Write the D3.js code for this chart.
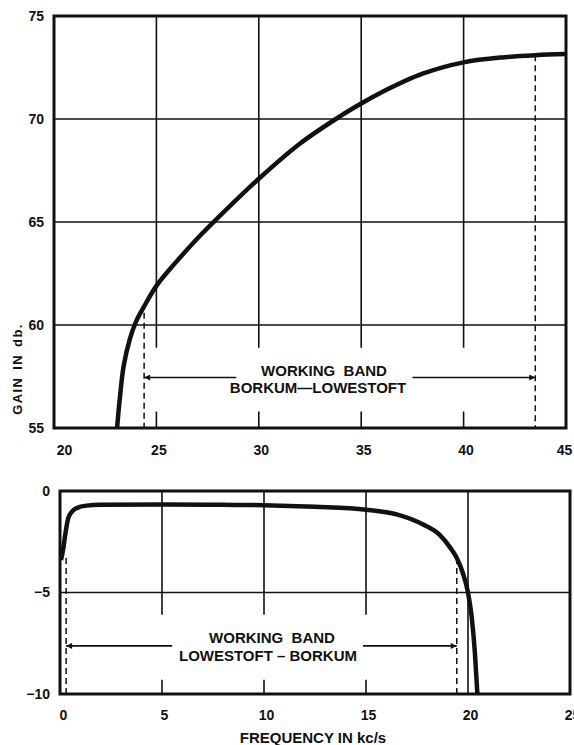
<!DOCTYPE html>
<html>
<head>
<meta charset="utf-8">
<script src="https://cdn.jsdelivr.net/npm/d3@7"></script>
<style>
  html, body { margin: 0; padding: 0; background: #fff; }
  svg { display: block; }
  text { font-family: "Liberation Sans", Arial, sans-serif; font-weight: bold; fill: #111; }
</style>
</head>
<body>
<svg id="chart" width="574" height="745"></svg>
<script>
// ---------- DATA ----------
// Upper chart: gain (db) vs frequency (kc/s)
const gainFreq  = [23.08, 23.2, 23.4, 23.7, 24.0, 24.4, 25, 26, 27, 28, 30, 32, 34, 35, 36, 38, 40, 42, 43.5, 45];
const gainValue = [55, 56.3, 58.0, 59.3, 60.15, 60.9, 61.9, 63.1, 64.2, 65.2, 67.1, 68.8, 70.15, 70.75, 71.3, 72.2, 72.75, 73.0, 73.1, 73.15];
const gainXTicks = [20, 25, 30, 35, 40, 45];
const gainYTicks = [55, 60, 65, 70, 75];
const gainBand = [24.4, 43.5];           // working band Borkum - Lowestoft
const gainBandTop = [60.6, 73.1];        // where the dashed markers meet the curve

// Lower chart: response (db) vs frequency (kc/s)
const respFreq  = [0.05, 0.15, 0.25, 0.4, 0.6, 0.8, 1.3, 2, 5, 8, 10, 12.5, 15, 16.5, 17.8, 18.6, 19.1, 19.45, 19.75, 20.0, 20.18, 20.34, 20.46];
const respValue = [-3.4, -2.9, -2.2, -1.35, -1.0, -0.85, -0.72, -0.68, -0.66, -0.68, -0.7, -0.78, -0.92, -1.15, -1.65, -2.15, -2.75, -3.3, -4.05, -5.0, -6.2, -8.0, -10];
const respXTicks = [0, 5, 10, 15, 20, 25];
const respYTicks = [-10, -5, 0];
const respBand = [0.3, 19.45];           // working band Lowestoft - Borkum
const respBandTop = [-3.3, -3.3];

// ---------- DRAW ----------
const svg = d3.select("#chart");
const INK = "#111";

const defs = svg.append("defs");
defs.append("marker")
  .attr("id", "arrow")
  .attr("viewBox", "0 0 10 10")
  .attr("refX", 10).attr("refY", 5)
  .attr("markerWidth", 9).attr("markerHeight", 6)
  .attr("markerUnits", "userSpaceOnUse")
  .attr("orient", "auto")
  .append("path").attr("d", "M0,0 L10,5 L0,10 z").attr("fill", INK);

function panel(cfg) {
  const g = svg.append("g");
  const x = d3.scaleLinear().domain(cfg.xDomain).range(cfg.xRange);
  const y = d3.scaleLinear().domain(cfg.yDomain).range(cfg.yRange);
  const [x0, x1] = cfg.xDomain, [y0, y1] = cfg.yDomain;

  // horizontal grid lines (full)
  g.selectAll(".hg").data(cfg.yTicks.filter(t => t !== y0 && t !== y1)).join("line")
    .attr("x1", x(x0)).attr("x2", x(x1))
    .attr("y1", d => y(d)).attr("y2", d => y(d))
    .attr("stroke", INK).attr("stroke-width", 1.6);

  // vertical grid lines, broken where the annotation sits
  cfg.xTicks.filter(t => t !== x0 && t !== x1).forEach(t => {
    if (cfg.fullGrid.includes(t)) {
      g.append("line").attr("x1", x(t)).attr("x2", x(t)).attr("y1", y(y1)).attr("y2", y(y0))
        .attr("stroke", INK).attr("stroke-width", 1.6);
    } else {
      g.append("line").attr("x1", x(t)).attr("x2", x(t)).attr("y1", y(y1)).attr("y2", y(cfg.gridBreak[1]))
        .attr("stroke", INK).attr("stroke-width", 1.6);
      g.append("line").attr("x1", x(t)).attr("x2", x(t)).attr("y1", y(cfg.gridBreak[0])).attr("y2", y(y0))
        .attr("stroke", INK).attr("stroke-width", 1.6);
    }
  });

  // dashed band markers
  cfg.band.forEach((b, i) => {
    g.append("line").attr("x1", x(b)).attr("x2", x(b))
      .attr("y1", y(cfg.bandTop[i])).attr("y2", y(y0))
      .attr("stroke", INK).attr("stroke-width", 1.5).attr("stroke-dasharray", "6,4");
  });

  // arrows
  g.append("line").attr("x1", x(cfg.arrowInner[0])).attr("x2", x(cfg.band[0]))
    .attr("y1", y(cfg.arrowY)).attr("y2", y(cfg.arrowY))
    .attr("stroke", INK).attr("stroke-width", 1.6).attr("marker-end", "url(#arrow)");
  g.append("line").attr("x1", x(cfg.arrowInner[1])).attr("x2", x(cfg.band[1]))
    .attr("y1", y(cfg.arrowY)).attr("y2", y(cfg.arrowY))
    .attr("stroke", INK).attr("stroke-width", 1.6).attr("marker-end", "url(#arrow)");

  // annotation text
  cfg.texts.forEach(tx => {
    g.append("text").attr("x", tx.x).attr("y", tx.y).attr("text-anchor", "middle")
      .style("font-size", "15px").style("white-space", "pre").attr("xml:space", "preserve")
      .text(tx.t);
  });

  // curve
  const line = d3.line().x(d => x(d[0])).y(d => y(d[1])).curve(cfg.curve);
  g.append("path").datum(cfg.xs.map((v, i) => [v, cfg.ys[i]]))
    .attr("d", line).attr("fill", "none").attr("stroke", INK)
    .attr("stroke-width", 4.5).attr("stroke-linejoin", "round");

  // frame
  g.append("rect").attr("x", x(x0)).attr("y", y(y1))
    .attr("width", x(x1) - x(x0)).attr("height", y(y0) - y(y1))
    .attr("fill", "none").attr("stroke", INK).attr("stroke-width", 3);

  // axes (labels only)
  const n = cfg.xTicks.length;
  const xa = g.append("g").attr("transform", `translate(0,${y(y0)})`)
    .call(d3.axisBottom(x).tickValues(cfg.xTicks).tickSize(0).tickPadding(cfg.xPad).tickFormat(d3.format("d")));
  xa.select(".domain").remove();
  xa.selectAll("text").style("font-size", "14px").style("font-family", null)
    .attr("dx", (d, i) => i === 0 ? cfg.firstDx : (i === n - 1 ? cfg.lastDx : 2));

  const ya = g.append("g").attr("transform", `translate(${x(x0)},0)`)
    .call(d3.axisLeft(y).tickValues(cfg.yTicks).tickSize(0).tickPadding(10).tickFormat(d3.format("d")));
  ya.select(".domain").remove();
  ya.selectAll("text").style("font-size", "14px").style("font-family", null);
  return { x, y };
}

panel({
  xDomain: [20, 45], xRange: [54, 566],
  yDomain: [55, 75], yRange: [428, 16],
  xTicks: gainXTicks, yTicks: gainYTicks,
  fullGrid: [], gridBreak: [55.8, 58.9],
  band: gainBand, bandTop: gainBandTop,
  arrowY: 57.45, arrowInner: [28.9, 37.5],
  texts: [{ x: 324, y: 376, t: "WORKING  BAND" }, { x: 318, y: 393, t: "BORKUM—LOWESTOFT" }],
  xs: gainFreq, ys: gainValue, xPad: 17, firstDx: 10, lastDx: -2,
  curve: d3.curveCatmullRom.alpha(0.5)
});

panel({
  xDomain: [0, 25], xRange: [60, 570],
  yDomain: [-10, 0], yRange: [694, 491],
  xTicks: respXTicks, yTicks: respYTicks,
  fullGrid: [20], gridBreak: [-9.3, -6.1],
  band: respBand, bandTop: respBandTop,
  arrowY: -7.63, arrowInner: [5.5, 14.85],
  texts: [{ x: 272, y: 643, t: "WORKING  BAND" }, { x: 268, y: 661, t: "LOWESTOFT – BORKUM" }],
  xs: respFreq, ys: respValue, xPad: 16, firstDx: 3, lastDx: 2,
  curve: d3.curveMonotoneX
});

// axis titles
svg.append("text").attr("transform", "translate(22,369) rotate(-90)")
  .attr("text-anchor", "middle").style("font-size", "13px").style("letter-spacing", "1.4px")
  .style("word-spacing", "2px").text("GAIN IN db.");
svg.append("text").attr("x", 313).attr("y", 743).attr("text-anchor", "middle")
  .style("font-size", "15px").text("FREQUENCY IN kc/s");
</script>
</body>
</html>
